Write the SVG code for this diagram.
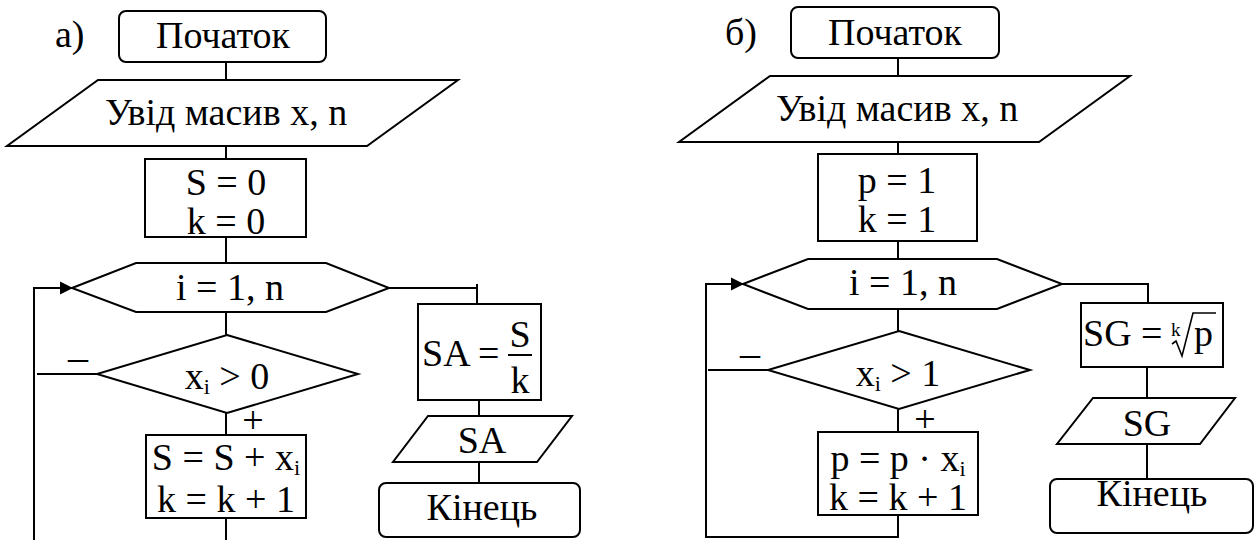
<svg xmlns="http://www.w3.org/2000/svg" width="1256" height="540" viewBox="0 0 1256 540">
<style>
.s{fill:none;stroke:#000;stroke-width:2}
.n{fill:#fff;stroke:#000;stroke-width:2}
text{font-family:"Liberation Serif","Times New Roman",serif;font-size:38px;fill:#000}
.c{text-anchor:middle}
.sub{font-size:22px}
.sm{font-size:19px}
.sg{font-size:40px}
</style>
<defs>
<marker id="arr" markerWidth="14" markerHeight="14" refX="13" refY="7" orient="auto" markerUnits="userSpaceOnUse">
<path d="M0,0.5 L13,7 L0,13.5 Z" fill="#000"/>
</marker>
</defs>
<rect width="1256" height="540" fill="#fff"/>
<g id="connectors">
<line class="s" x1="226" y1="62" x2="226" y2="80"/>
<line class="s" x1="226" y1="146" x2="226" y2="159"/>
<line class="s" x1="226" y1="237" x2="226" y2="263"/>
<line class="s" x1="226" y1="312" x2="226" y2="335"/>
<line class="s" x1="226" y1="413" x2="226" y2="435"/>
<line class="s" x1="226" y1="518" x2="226" y2="541"/>
<polyline class="s" points="34,541 34,288 73,288" marker-end="url(#arr)"/>
<line class="s" x1="97" y1="374" x2="37" y2="374"/>
<polyline class="s" points="389,288 477,288"/>
<line class="s" x1="477" y1="284" x2="477" y2="304"/>
<line class="s" x1="479" y1="400" x2="479" y2="416"/>
<line class="s" x1="479" y1="462" x2="479" y2="483"/>
<line class="s" x1="898" y1="58" x2="898" y2="76"/>
<line class="s" x1="898" y1="142" x2="898" y2="154"/>
<line class="s" x1="898" y1="241" x2="898" y2="259"/>
<line class="s" x1="898" y1="309" x2="898" y2="331"/>
<line class="s" x1="898" y1="409" x2="898" y2="432"/>
<polyline class="s" points="898,515 898,537 706,537 706,284 744,284" marker-end="url(#arr)"/>
<line class="s" x1="768" y1="370" x2="708" y2="370"/>
<polyline class="s" points="1062,284 1148,284"/>
<line class="s" x1="1148" y1="283" x2="1148" y2="303"/>
<line class="s" x1="1147" y1="367" x2="1147" y2="398"/>
<line class="s" x1="1147" y1="444" x2="1147" y2="479"/>
<text x="78" y="370" class="c sg">–</text>
<text x="253" y="433" class="c">+</text>
<text x="750" y="366" class="c sg">–</text>
<text x="925" y="432" class="c">+</text>
</g>
<g id="label-a"><text x="55" y="47">а)</text></g>
<g id="a-start">
<rect class="n" x="119" y="11" width="207" height="51" rx="7"/>
<text x="223" y="48" class="c">Початок</text>
</g>
<g id="a-input">
<polygon class="n" points="98,80 458,80 367,146 7,146"/>
<text x="226" y="125" class="c">Увід масив x, n</text>
</g>
<g id="a-init">
<rect class="n" x="145" y="159" width="161" height="78"/>
<text x="226" y="195" class="c">S = 0</text>
<text x="226" y="234" class="c">k = 0</text>
</g>
<g id="a-loop">
<polygon class="n" points="72,288 136,263 326,263 389,288 326,312 136,312"/>
<text x="230" y="300" class="c">i = 1, n</text>
</g>
<g id="a-cond">
<polygon class="n" points="227,335 358,374 227,413 97,374"/>
<text x="227" y="389" class="c">x<tspan class="sub" dy="5">i</tspan><tspan dy="-5"> &gt; 0</tspan></text>
</g>
<g id="a-body">
<rect class="n" x="146" y="435" width="160" height="83"/>
<text x="226" y="470" class="c">S = S + x<tspan class="sub" dy="5">i</tspan></text>
<text x="226" y="512" class="c">k = k + 1</text>
</g>
<g id="a-sa">
<rect class="n" x="418" y="304" width="123" height="96"/>
<text x="422" y="366">SA =</text>
<text x="520" y="347" class="c">S</text>
<line class="s" x1="508" y1="355" x2="532" y2="355"/>
<text x="520" y="393" class="c">k</text>
</g>
<g id="a-out">
<polygon class="n" points="428,416 572,416 537,462 393,462"/>
<text x="482" y="453" class="c">SA</text>
</g>
<g id="a-end">
<rect class="n" x="379" y="483" width="201" height="54" rx="7"/>
<text x="482" y="520" class="c">Кінець</text>
</g>
<g id="label-b"><text x="725" y="45">б)</text></g>
<g id="b-start">
<rect class="n" x="791" y="7" width="208" height="51" rx="7"/>
<text x="895" y="45" class="c">Початок</text>
</g>
<g id="b-input">
<polygon class="n" points="770,76 1130,76 1039,142 679,142"/>
<text x="897" y="121" class="c">Увід масив x, n</text>
</g>
<g id="b-init">
<rect class="n" x="818" y="154" width="159" height="87"/>
<text x="897" y="193" class="c">p = 1</text>
<text x="897" y="232" class="c">k = 1</text>
</g>
<g id="b-loop">
<polygon class="n" points="743,284 808,259 997,259 1062,284 997,309 808,309"/>
<text x="903" y="295" class="c">i = 1, n</text>
</g>
<g id="b-cond">
<polygon class="n" points="899,331 1030,370 899,409 768,370"/>
<text x="898" y="386" class="c">x<tspan class="sub" dy="5">i</tspan><tspan dy="-5"> &gt; 1</tspan></text>
</g>
<g id="b-body">
<rect class="n" x="818" y="432" width="160" height="83"/>
<text x="898" y="471" class="c">p = p · x<tspan class="sub" dy="5">i</tspan></text>
<text x="898" y="510" class="c">k = k + 1</text>
</g>
<g id="b-sg">
<rect class="n" x="1081" y="303" width="142" height="64"/>
<text x="1083" y="346">SG =</text>
<text x="1171" y="336" class="sm">k</text>
<polyline fill="none" stroke="#000" stroke-width="1.6" points="1172,344 1176,341 1182,356 1193,313 1216,313"/>
<text x="1194" y="346">p</text>
</g>
<g id="b-out">
<polygon class="n" points="1093,398 1235,398 1200,444 1057,444"/>
<text x="1147" y="436" class="c">SG</text>
</g>
<g id="b-end">
<rect class="n" x="1050" y="479" width="203" height="54" rx="7"/>
<text x="1152" y="506" class="c">Кінець</text>
</g>
</svg>
